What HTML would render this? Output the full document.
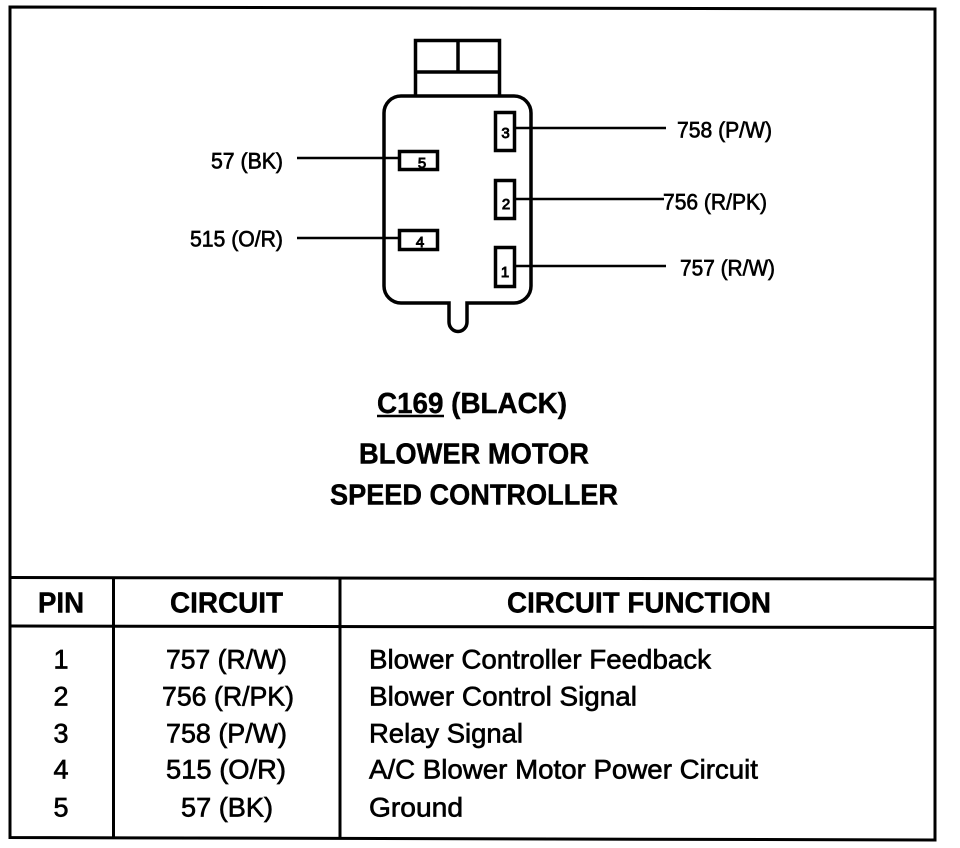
<!DOCTYPE html>
<html>
<head>
<meta charset="utf-8">
<style>
html,body{margin:0;padding:0;background:#fff;width:960px;height:848px;overflow:hidden}
svg{display:block}
text{font-family:"Liberation Sans",Arial,sans-serif;fill:#000;stroke:#000;stroke-width:.65px}
.b{font-weight:bold;stroke-width:.45px}
.l{font-size:22px}
.t{font-size:28.500px}
.h{font-size:28.500px}
.r{font-size:27px}
.p{font-size:15px;stroke-width:.9px}
</style>
</head>
<body>
<svg width="960" height="848" viewBox="0 0 960 848" xmlns="http://www.w3.org/2000/svg">
<rect width="960" height="848" fill="#fff"/>
<g fill="none" stroke="#000">
  <!-- frame -->
  <path d="M10 7L935 9V840L10 837.500Z" stroke-width="3"/>
  <path d="M9 577.500L935 579M9 626L935 627.500" stroke-width="3"/>
  <path d="M113.500 578V838M340 579V838.500" stroke-width="3"/>
  <!-- connector -->
  <path d="M415.500 96V40.500H499.500V96M415.500 72H499.500M458 40.500V72" stroke-width="3.500"/>
  <path d="M449 303H401A17 17 0 0 1 384 286V113A17 17 0 0 1 401 96H514A17 17 0 0 1 531 113V286A17 17 0 0 1 514 303H467V322A9 9.500 0 0 1 449 322Z" stroke-width="3.500"/>
  <!-- pins -->
  <rect x="495.500" y="112.500" width="19" height="38" stroke-width="3.500"/>
  <rect x="495.500" y="180.500" width="19" height="38" stroke-width="3.500"/>
  <rect x="495.500" y="247.500" width="19" height="39" stroke-width="3.500"/>
  <rect x="399.500" y="151.500" width="38" height="18" stroke-width="3.500"/>
  <rect x="399.500" y="230.500" width="38" height="19" stroke-width="3.500"/>
  <!-- wires -->
  <path d="M515 128H666M515 199H664M515 266H666M297 158H399M297 238H399" stroke-width="2.500"/>
</g>
<!-- pin numbers -->
<text class="p" x="505.500" y="138" text-anchor="middle">3</text>
<text class="p" x="506" y="209" text-anchor="middle">2</text>
<text class="p" x="505" y="277" text-anchor="middle">1</text>
<text class="p" x="422" y="168" text-anchor="middle">5</text>
<text class="p" x="420" y="247" text-anchor="middle">4</text>
<!-- wire labels -->
<text class="l" x="677" y="137.500" textLength="95" lengthAdjust="spacingAndGlyphs">758 (P/W)</text>
<text class="l" x="663" y="209.500" textLength="104" lengthAdjust="spacingAndGlyphs">756 (R/PK)</text>
<text class="l" x="680" y="275.500" textLength="95" lengthAdjust="spacingAndGlyphs">757 (R/W)</text>
<text class="l" x="211" y="168.500" textLength="72" lengthAdjust="spacingAndGlyphs">57 (BK)</text>
<text class="l" x="190" y="246.500" textLength="93" lengthAdjust="spacingAndGlyphs">515 (O/R)</text>
<!-- title -->
<text class="b t" x="377" y="413" textLength="190" lengthAdjust="spacingAndGlyphs">C169 (BLACK)</text>
<path d="M377 416H444" stroke="#000" stroke-width="2.500"/>
<text class="b t" x="359" y="463.500" textLength="230" lengthAdjust="spacingAndGlyphs">BLOWER MOTOR</text>
<text class="b t" x="330" y="504.500" textLength="288" lengthAdjust="spacingAndGlyphs">SPEED CONTROLLER</text>
<!-- header -->
<text class="b h" x="38" y="612.500" textLength="46" lengthAdjust="spacingAndGlyphs">PIN</text>
<text class="b h" x="170" y="612.500" textLength="113" lengthAdjust="spacingAndGlyphs">CIRCUIT</text>
<text class="b h" x="507" y="612.500" textLength="264" lengthAdjust="spacingAndGlyphs">CIRCUIT FUNCTION</text>
<!-- rows -->
<g class="r">
  <text class="r" x="61" y="668.500" text-anchor="middle">1</text>
  <text class="r" x="61" y="705.500" text-anchor="middle">2</text>
  <text class="r" x="61" y="742.500" text-anchor="middle">3</text>
  <text class="r" x="61" y="778.500" text-anchor="middle">4</text>
  <text class="r" x="61" y="816.500" text-anchor="middle">5</text>
  <text class="r" x="166" y="668.500" textLength="121" lengthAdjust="spacingAndGlyphs">757 (R/W)</text>
  <text class="r" x="162" y="705.500" textLength="132" lengthAdjust="spacingAndGlyphs">756 (R/PK)</text>
  <text class="r" x="166" y="742.500" textLength="121" lengthAdjust="spacingAndGlyphs">758 (P/W)</text>
  <text class="r" x="166" y="778.500" textLength="120" lengthAdjust="spacingAndGlyphs">515 (O/R)</text>
  <text class="r" x="181" y="816.500" textLength="92" lengthAdjust="spacingAndGlyphs">57 (BK)</text>
  <text class="r" x="369" y="668.500" textLength="342" lengthAdjust="spacingAndGlyphs">Blower Controller Feedback</text>
  <text class="r" x="369" y="705.500" textLength="268" lengthAdjust="spacingAndGlyphs">Blower Control Signal</text>
  <text class="r" x="369" y="742.500" textLength="154" lengthAdjust="spacingAndGlyphs">Relay Signal</text>
  <text class="r" x="369" y="778.500" textLength="389" lengthAdjust="spacingAndGlyphs">A/C Blower Motor Power Circuit</text>
  <text class="r" x="369" y="816.500" textLength="94" lengthAdjust="spacingAndGlyphs">Ground</text>
</g>
</svg>
</body>
</html>
